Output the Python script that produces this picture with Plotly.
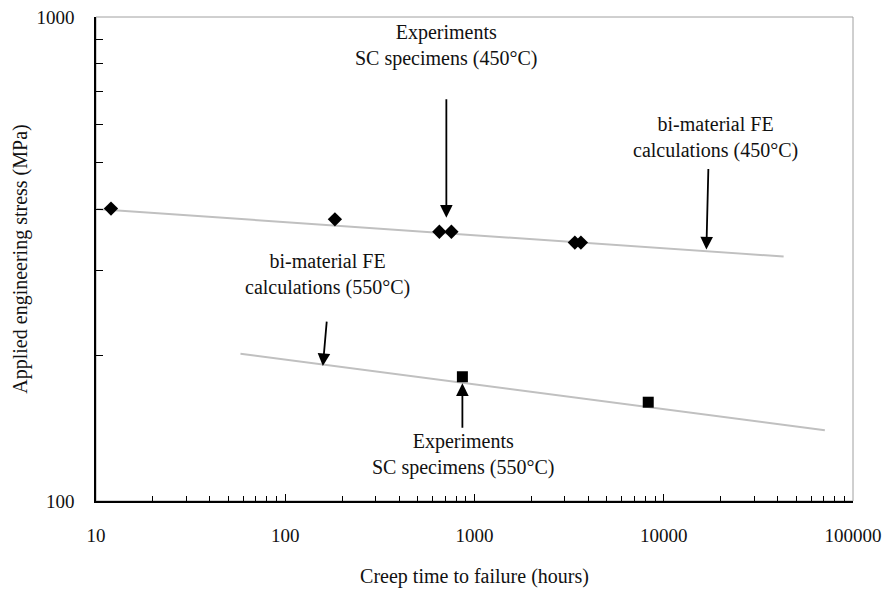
import math
import plotly.graph_objects as go

# experiments, single crystal specimens
exp450_hours = [12, 183, 652, 755, 3390, 3650]
exp450_stress = [402, 382, 360, 360, 342, 342]
exp550_hours = [863, 8280]
exp550_stress = [180.6, 160]

# bi-material FE calculation trend lines
fe450_hours = [9.1, 43000]
fe450_stress = [402, 320]
fe550_hours = [58, 71000]
fe550_stress = [201.5, 140]

x_ticks = [10, 100, 1000, 10000, 100000]
y_ticks = [100, 1000]

FONT = "Liberation Serif"
TXT = "#111"
L = math.log10

fig = go.Figure()
fig.add_trace(go.Scatter(x=fe450_hours, y=fe450_stress, mode="lines",
                         line=dict(color="#c0c0c0", width=2)))
fig.add_trace(go.Scatter(x=fe550_hours, y=fe550_stress, mode="lines",
                         line=dict(color="#c0c0c0", width=2)))
fig.add_trace(go.Scatter(x=exp450_hours, y=exp450_stress, mode="markers",
                         marker=dict(symbol="diamond", size=11, color="black")))
fig.add_trace(go.Scatter(x=exp550_hours, y=exp550_stress, mode="markers",
                         marker=dict(symbol="square", size=11, color="black")))

arrow = dict(showarrow=True, arrowhead=2, arrowsize=1.4, arrowwidth=1.8,
             arrowcolor="black", xref="x", yref="y", text="")
fig.add_annotation(x=L(710), y=L(385), ax=0, ay=-120, **arrow)
fig.add_annotation(x=L(16800), y=L(331), ax=2, ay=-82, **arrow)
fig.add_annotation(x=L(158), y=L(190), ax=4, ay=-46, **arrow)
fig.add_annotation(x=L(863), y=L(175), ax=0, ay=46, **arrow)

label = dict(showarrow=False, xref="x", yref="y", align="center",
             font=dict(family=FONT, size=20, color=TXT))
fig.add_annotation(x=L(710), y=2.942, text="Experiments<br>SC specimens (450°C)", **label)
fig.add_annotation(x=4.273, y=2.7516, text="bi-material FE<br>calculations (450°C)", **label)
fig.add_annotation(x=2.2255, y=2.468, text="bi-material FE<br>calculations (550°C)", **label)
fig.add_annotation(x=2.9416, y=2.0952, text="Experiments<br>SC specimens (550°C)", **label)

# light frame on top/right
fig.add_shape(type="rect", xref="paper", yref="paper", x0=0, y0=0, x1=1, y1=1,
              line=dict(color="#a0a0a0", width=1), layer="below")

fig.update_xaxes(type="log", range=[1, 5], tickvals=x_ticks,
                 ticktext=[str(v) for v in x_ticks],
                 showline=True, linecolor="black", linewidth=1.5,
                 ticks="inside", ticklen=7, tickcolor="black",
                 minor=dict(ticks="inside", ticklen=5, dtick="D1", tickcolor="black"),
                 showgrid=False, zeroline=False, ticklabelstandoff=16, automargin=False,
                 tickfont=dict(family=FONT, size=19, color=TXT),
                 title=dict(text="Creep time to failure (hours)", standoff=24,
                            font=dict(family=FONT, size=20, color=TXT)))
fig.update_yaxes(type="log", range=[2, 3], tickvals=y_ticks,
                 ticktext=[str(v) for v in y_ticks],
                 showline=True, linecolor="black", linewidth=1.5,
                 ticks="inside", ticklen=7, tickcolor="black",
                 minor=dict(ticks="inside", ticklen=7, dtick="D1", tickcolor="black"),
                 showgrid=False, zeroline=False, ticklabelstandoff=16, automargin=False,
                 tickfont=dict(family=FONT, size=19, color=TXT),
                 title=dict(text="Applied engineering stress (MPa)", standoff=3,
                            font=dict(family=FONT, size=20, color=TXT)))

fig.update_layout(width=886, height=590, plot_bgcolor="white", paper_bgcolor="white",
                  margin=dict(l=96, r=33, t=17, b=89), showlegend=False)

# drop the default page margin so the figure sits at the window's corner
fig.write_html("out.html", config={"displayModeBar": False},
               post_script="document.body.style.margin='0';")
